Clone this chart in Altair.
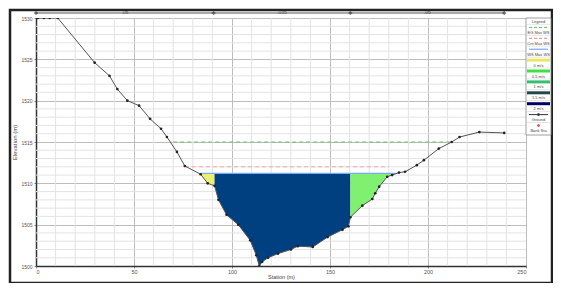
import altair as alt
import pandas as pd

# ---- data ----
stations = [0, 1, 4, 7, 11.1, 29.9, 37.5, 41.5, 46.6, 52.6, 58.2, 63.8, 66.8, 71.9, 75.9,
            84.0, 87.6, 91.1, 93.1, 97.2, 103.2, 109.3, 112.4, 113.9, 115.4, 118.4, 123.5,
            130.1, 133.6, 141.2, 148.8, 156.4, 159.4, 160.4, 166.5, 171.6, 173.1, 175.1,
            179.2, 181.7, 185.2, 188.3, 194.3, 197.9, 205.5, 212.1, 216.1, 226.2, 238.9]
elevations = [1530.0, 1530.0, 1530.0, 1530.0, 1530.0, 1524.6, 1523.0, 1521.4, 1520.0, 1519.4,
              1517.8, 1516.6, 1515.6, 1513.8, 1512.1, 1511.1, 1510.0, 1509.7, 1508.0, 1506.2,
              1505.0, 1503.1, 1501.3, 1500.0, 1500.5, 1501.0, 1501.5, 1502.0, 1502.4, 1502.3,
              1503.5, 1504.4, 1504.8, 1505.9, 1507.3, 1508.1, 1508.8, 1509.6, 1510.8, 1511.0,
              1511.3, 1511.4, 1512.2, 1512.8, 1514.2, 1515.0, 1515.6, 1516.2, 1516.1]

ws_elev = 1511.2
ws_stations = [84.0, 184.0]
crit_elev = 1512.0
crit_stations = [76.0, 180.0]
eg_elev = 1515.0
eg_stations = [70.0, 212.0]

zone_names = ["left", "channel", "right"]
zone_ranges = [(84.0, 91.1), (91.1, 160.4), (160.4, 181.7)]
zone_colors = ["#eeee70", "#004080", "#80f070"]

n_breaks = [0, 90.6, 160.4, 238.9]
n_values = [".06", ".035", ".06"]

x_labels = [0, 50, 100, 150, 200, 250]
y_labels = [1500, 1505, 1510, 1515, 1520, 1525, 1530]
x_minor = [v for v in range(10, 250, 10) if v % 50 != 0]
y_minor = [v for v in range(1501, 1530) if v % 5 != 0]

legend_labels = ["Legend", "EG Max WS", "Crit Max WS", "WS Max WS", "0 m/s", "0.5 m/s",
                 "1 m/s", "1.5 m/s", "2 m/s", "Ground", "Bank Sta"]
legend_kinds = [None, "dash", "dash", "line", "bar", "bar", "bar", "bar", "bar", "ground", "dot"]
legend_colors = [None, "#60c060", "#f08080", "#6090ff", "#e8e860", "#40e040", "#30c070",
                 "#204848", "#000060", "#333333", "#d02020"]

# ---- tables ----
ground = pd.DataFrame({"station": stations, "elev": elevations})
zone_rows = []
for name, (a, b) in zip(zone_names, zone_ranges):
    for s, e in zip(stations, elevations):
        if a <= s <= b:
            zone_rows.append({"zone": name, "station": s, "elev": e})
zones = pd.DataFrame(zone_rows)

W, H = 490, 248
xscale = alt.Scale(domain=[0, 250], nice=False)
yscale = alt.Scale(domain=[1500, 1530], nice=False)

xaxis = alt.Axis(values=x_labels, labelFontSize=5.5, labelColor="#555", title="Station (m)",
                 titleFontSize=5.5, titleFontWeight="normal", titleColor="#444", titlePadding=0,
                 grid=True, gridColor="#bdbdbd", domainColor="#333", domainWidth=1.5,
                 tickSize=2, tickColor="#888", labelOverlap=False, labelPadding=1, format="d")
yaxis = alt.Axis(values=y_labels, labelFontSize=5, labelColor="#555", title="Elevation (m)",
                 titleFontSize=6, titleFontWeight="normal", titleColor="#444", titlePadding=3,
                 grid=True, gridColor="#bdbdbd", domainColor="#333", domainWidth=1.5,
                 tickSize=2, tickColor="#888", labelOverlap=False, labelPadding=2, format="d")

X = lambda f: alt.X(f, scale=xscale, axis=xaxis, title="Station (m)")
Y = lambda f: alt.Y(f, scale=yscale, axis=yaxis, title="Elevation (m)")
one = pd.DataFrame({"a": [0]})

layers = []

# base carrying the axes
layers.append(alt.Chart(ground).mark_point(opacity=0).encode(x=X("station:Q"), y=Y("elev:Q")))

# minor grid
layers.append(alt.Chart(pd.DataFrame({"station": x_minor})).mark_rule(color="#e3e3e3", strokeWidth=1)
              .encode(x=X("station:Q")))
layers.append(alt.Chart(pd.DataFrame({"elev": y_minor})).mark_rule(color="#e3e3e3", strokeWidth=1)
              .encode(y=Y("elev:Q")))

# flow areas
for name, color in zip(zone_names, zone_colors):
    layers.append(
        alt.Chart(zones).transform_filter(alt.datum.zone == name)
        .mark_area(color=color, opacity=1, clip=True)
        .encode(x=X("station:Q"), y=Y("elev:Q"), y2=alt.datum(ws_elev)))

def hline(xs, elev, color, dash=None, width=1.0):
    df = pd.DataFrame({"station": xs, "elev": [elev] * len(xs)})
    kw = dict(color=color, strokeWidth=width)
    if dash:
        kw["strokeDash"] = dash
    return alt.Chart(df).mark_line(**kw).encode(x=X("station:Q"), y=Y("elev:Q"))

layers.append(hline(eg_stations, eg_elev, "#70c070", [4, 3], 1.0))
layers.append(hline(crit_stations, crit_elev, "#f4a8a8", [4, 3], 1.0))
layers.append(hline(ws_stations, ws_elev, "#7aa8ff", None, 1.2))

# ground
layers.append(alt.Chart(ground).mark_line(color="#555", strokeWidth=1, clip=True)
              .encode(x=X("station:Q"), y=Y("elev:Q")))
layers.append(alt.Chart(ground).mark_circle(color="#222", size=7, opacity=1, clip=True)
              .encode(x=X("station:Q"), y=Y("elev:Q")))

# top n-value bar
nseg = pd.DataFrame({"station": n_breaks[:-1], "end": n_breaks[1:], "n": n_values})
layers.append(alt.Chart(nseg).mark_rule(color="#555", strokeWidth=1).encode(
    x=X("station:Q"), x2="end:Q", y=alt.value(-5)))
layers.append(alt.Chart(nseg).transform_calculate(mid="(datum.station + datum.end) / 2")
              .mark_text(fontSize=5, color="#555", dy=-1).encode(
    x=X("mid:Q"), y=alt.value(-5), text="n:N"))
layers.append(alt.Chart(pd.DataFrame({"station": n_breaks}))
              .mark_point(shape="cross", size=14, filled=True, color="#333").encode(
    x=X("station:Q"), y=alt.value(-5)))

# outer frame
layers.append(alt.Chart(one).mark_rect(fillOpacity=0, stroke="#222", strokeWidth=2.5).encode(
    x=alt.value(-26), x2=alt.value(W + 26), y=alt.value(-8), y2=alt.value(265)))

# legend
lx0, lx1 = W, W + 25
lxc = (lx0 + lx1) / 2
layers.append(alt.Chart(one).mark_rect(fill="white", stroke="#888", strokeWidth=0.8).encode(
    x=alt.value(lx0), x2=alt.value(lx1), y=alt.value(0), y2=alt.value(117)))
for i, (lab, kind, col) in enumerate(zip(legend_labels, legend_kinds, legend_colors)):
    ty = 4 + 10.9 * i
    sy = ty - 5.5
    if i > 0:
        layers.append(alt.Chart(one).mark_rule(color="#ccc", strokeWidth=0.5).encode(
            x=alt.value(lx0), x2=alt.value(lx1), y=alt.value(ty - 8.5)))
    layers.append(alt.Chart(one).mark_text(text=lab, fontSize=4, color="#444").encode(
        x=alt.value(lxc), y=alt.value(ty)))
    if kind in ("dash", "line", "ground"):
        kw = dict(color=col, strokeWidth=1)
        if kind == "dash":
            kw["strokeDash"] = [3, 2]
        layers.append(alt.Chart(one).mark_rule(**kw).encode(
            x=alt.value(lx0 + 3), x2=alt.value(lx1 - 3), y=alt.value(sy)))
        if kind == "ground":
            layers.append(alt.Chart(one).mark_circle(color=col, size=8, opacity=1).encode(
                x=alt.value(lxc), y=alt.value(sy)))
    elif kind == "bar":
        layers.append(alt.Chart(one).mark_rect(color=col).encode(
            x=alt.value(lx0 + 1), x2=alt.value(lx1 - 1), y=alt.value(sy - 1.5), y2=alt.value(sy + 1.5)))
    elif kind == "dot":
        layers.append(alt.Chart(one).mark_point(shape="cross", color=col, size=10, filled=True).encode(
            x=alt.value(lxc), y=alt.value(sy)))

chart = alt.layer(*layers).properties(
    width=W, height=H,
    autosize=alt.AutoSizeParams(type="none"),
    padding={"left": 28, "top": 10, "right": 27, "bottom": 17},
).configure_view(stroke="#555", strokeWidth=1.2).configure(background="white")

chart.save("out.html", embed_options={"renderer": "svg", "actions": False})
